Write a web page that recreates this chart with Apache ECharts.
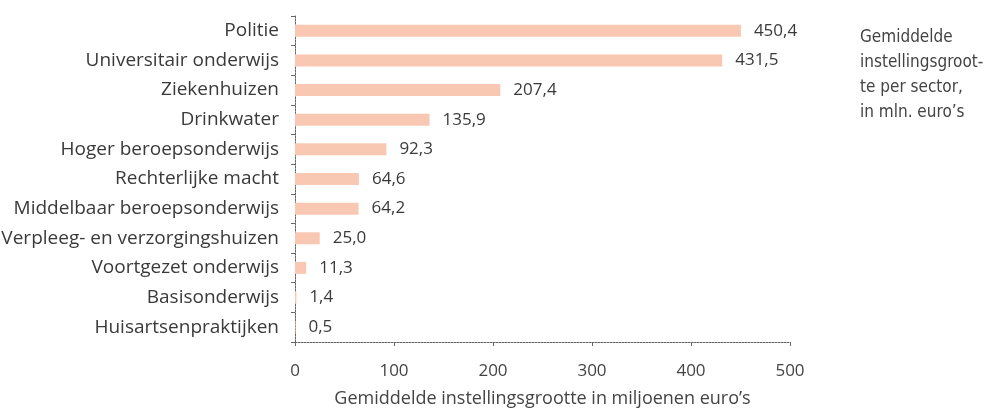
<!DOCTYPE html>
<html>
<head>
<meta charset="utf-8">
<script src="https://cdn.jsdelivr.net/npm/echarts@6/dist/echarts.min.js"></script>
<style>
html,body{margin:0;padding:0;background:#fff;}
#chart{width:991px;height:408px;}
</style>
</head>
<body>
<div id="chart"></div>
<script>
var categories = [
  "Politie",
  "Universitair onderwijs",
  "Ziekenhuizen",
  "Drinkwater",
  "Hoger beroepsonderwijs",
  "Rechterlijke macht",
  "Middelbaar beroepsonderwijs",
  "Verpleeg- en verzorgingshuizen",
  "Voortgezet onderwijs",
  "Basisonderwijs",
  "Huisartsenpraktijken"
];
var values = [450.4, 431.5, 207.4, 135.9, 92.3, 64.6, 64.2, 25.0, 11.3, 1.4, 0.5];
var xTicks = [0, 100, 200, 300, 400, 500];
var axisTitle = "Gemiddelde instellingsgrootte in miljoenen euro\u2019s";
var sideNote = ["Gemiddelde", "instellingsgroot-", "te per sector,", "in mln. euro\u2019s"];

var chart = echarts.init(document.getElementById('chart'));
var axisLineStyle = {color: '#666', width: 1, type: [2, 1]};
chart.setOption({
  animation: false,
  grid: {left: 295, right: 201, top: 16, bottom: 66, containLabel: false, outerBoundsMode: 'none'},
  xAxis: {
    type: 'value',
    min: xTicks[0],
    max: xTicks[xTicks.length - 1],
    interval: 100,
    splitLine: {show: false},
    axisLine: {show: true, lineStyle: axisLineStyle},
    axisTick: {show: true, length: 4, inside: false, lineStyle: {color: '#666'}},
    axisLabel: {margin: 21, color: '#444', fontFamily: 'Open Sans', fontSize: 17},
    name: axisTitle,
    nameLocation: 'middle',
    nameGap: 48,
    nameTextStyle: {color: '#444', fontFamily: 'Open Sans', fontSize: 18}
  },
  yAxis: {
    type: 'category',
    data: categories,
    inverse: true,
    axisLine: {show: true, lineStyle: axisLineStyle},
    axisTick: {show: true, length: 4, lineStyle: {color: '#666'}},
    axisLabel: {margin: 16, color: '#3a3a3a', fontFamily: 'Open Sans', fontSize: 19}
  },
  series: [{
    type: 'bar',
    data: values,
    barWidth: 12,
    itemStyle: {color: '#f8c8b3'},
    label: {
      show: true,
      position: 'right',
      distance: 13,
      color: '#3a3a3a',
      fontFamily: 'Open Sans',
      fontSize: 17,
      formatter: function (p) { return p.value.toFixed(1).replace('.', ','); }
    }
  }],
  graphic: sideNote.map(function (t, i) {
    return {
      type: 'text',
      left: 860,
      top: 29 + i * 25,
      style: {
        text: t,
        fill: '#444',
        font: '17px "Liberation Sans Narrow", "DejaVu Sans Condensed", sans-serif'
      }
    };
  })
});
</script>
</body>
</html>
